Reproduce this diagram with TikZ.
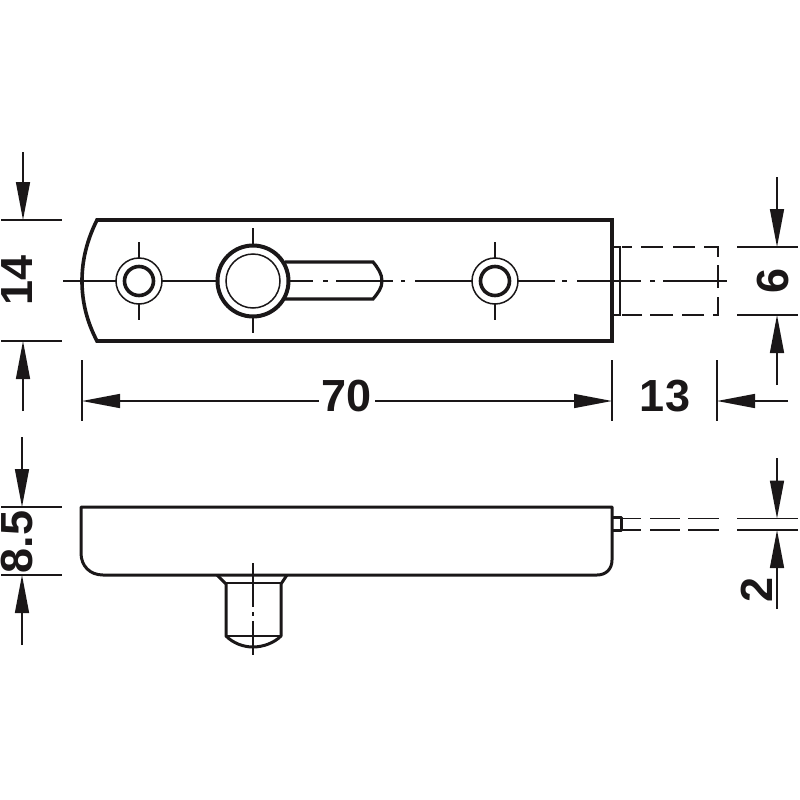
\documentclass[tikz,border=0pt]{standalone}
\usepackage{fontspec}
\setmainfont{Liberation Sans}
\usetikzlibrary{arrows.meta}
\definecolor{inkblack}{HTML}{1A1718}
\tikzset{
	outline/.style={draw=inkblack,line width=3.6pt,line join=miter},
	sideline/.style={draw=inkblack,line width=3pt,line join=round},
	thinline/.style={draw=inkblack,line width=1.5pt},
	hiddenline/.style={thinline,line width=1.8pt},
	dimline/.style={thinline,-{Triangle[length=38pt,width=14pt]}},
	dimtext/.style={text=inkblack,inner sep=0pt,font=\bfseries\fontsize{45}{45}\selectfont}
}

\begin{document}
\begin{tikzpicture}[x=1pt,y=-1pt]
	\useasboundingbox (0,0) rectangle (800,800);

	% top view
	\path[outline] (97,220) -- (612,220) -- (612,341) -- (97,341)
		.. controls (87,322) and (82,302) .. (82,281)
		.. controls (82,260) and (87,240) .. (97,220) -- cycle;
	\foreach \holex in {139,495} {
		\draw[thinline] (\holex,281) circle (23);
		\draw[draw=inkblack,line width=3.6pt] (\holex,281) circle (14.5);
		\draw[thinline] (\holex,242) -- (\holex,258) (\holex,304) -- (\holex,320);
	}
	\draw[draw=inkblack,line width=4pt] (253,281) circle (35.5);
	\draw[thinline] (253,281) circle (27);
	\draw[thinline] (253,228) -- (253,244) (253,318) -- (253,333);
	\path[draw=inkblack,line width=3.2pt] (285,262) -- (373,262)
		.. controls (378,268) and (382,274) .. (382,281)
		.. controls (382,288) and (378,293) .. (373,299) -- (285,299);

	% centre line
	\draw[thinline] (63,281) -- (116,281) (162,281) -- (216,281) (290,281) -- (313,281)
		(323,281) -- (328,281) (336,281) -- (393,281) (401,281) -- (405,281)
		(415,281) -- (472,281) (518,281) -- (555,281) (562,281) -- (567,281)
		(577,281) -- (641,281) (650,281) -- (655,281) (663,281) -- (727,281);

	% pin in the top view
	\path[draw=inkblack,line width=2.8pt] (612,247) -- (620,247) -- (620,315) -- (612,315);
	\draw[hiddenline] (622,247) -- (632,247) (641,247) -- (663,247) (673,247) -- (695,247) (704,247) -- (718,247) -- (718,257)
		(718,265) -- (718,288) (718,297) -- (718,315) -- (713,315)
		(704,315) -- (682,315) (673,315) -- (650,315) (642,315) -- (622,315);

	% side view
	\path[sideline] (612,507) -- (81,507) -- (81,553)
		.. controls (81,566) and (90,575) .. (103,575) -- (597,575)
		.. controls (606,575) and (612,569) .. (612,560) -- cycle;
	\path[sideline] (613,517.5) -- (621,517.5) -- (621,530.5) -- (613,530.5);
	\draw[hiddenline] (621,518.5) -- (641,518.5) (650,518.5) -- (680,518.5) (688,518.5) -- (719,518.5)
		(621,530) -- (641,530) (650,530) -- (680,530) (688,530) -- (719,530);
	\path[sideline] (217,575) -- (226,584) -- (226,636)
		.. controls (233,643) and (243,647) .. (253,647)
		.. controls (263,647) and (274,643) .. (281,636) -- (281,584) -- (287,575);
	\draw[thinline] (226,583) -- (281,583) (226,636) -- (281,636);
	\draw[thinline] (253,563) -- (253,607) (253,612) -- (253,616) (253,621) -- (253,655);

	% dimension 14
	\node[dimtext,rotate=90] (wid) at (17.5,280) {14};
	\coordinate (widtop) at (23,220);
	\coordinate (widbot) at (23,341);
	\draw[thinline] (1,220) -- (62,220) (1,341) -- (62,341);
	\draw[dimline] (23,152) -- (widtop);
	\draw[dimline] (23,411) -- (widbot);

	% dimension 70 and 13
	\node[dimtext] (len) at (347,396) {70};
	\node[dimtext] (pinlen) at (665,396) {13};
	\coordinate (lenleft) at (82,401);
	\coordinate (lenright) at (612,401);
	\coordinate (pinright) at (717,401);
	\draw[thinline] (82,360) -- (82,421) (612,360) -- (612,421) (717,360) -- (717,421);
	\draw[dimline] (len.west |- lenleft) ++(-3,0) -- (lenleft);
	\draw[dimline] (len.east |- lenright) ++(3,0) -- (lenright);
	\draw[dimline] (788,401) -- (pinright);

	% dimension 6
	\node[dimtext,rotate=90] (pinwid) at (773,281) {6};
	\coordinate (pintop) at (777,247);
	\coordinate (pinbot) at (777,315);
	\draw[thinline] (737,247) -- (798,247) (737,315) -- (798,315);
	\draw[dimline] (777,177) -- (pintop);
	\draw[dimline] (777,385) -- (pinbot);

	% dimension 8.5
	\node[dimtext,rotate=90] (hgt) at (17.5,542) {8.5};
	\coordinate (hgttop) at (22,507);
	\coordinate (hgtbot) at (22,575);
	\draw[thinline] (1,507) -- (62,507) (1,575) -- (62,575);
	\draw[dimline] (22,437) -- (hgttop);
	\draw[dimline] (22,645) -- (hgtbot);

	% dimension 2
	\node[dimtext,rotate=90] (pinhgt) at (757,590) {2};
	\coordinate (thintop) at (777,518.5);
	\coordinate (thinbot) at (777,530);
	\draw[thinline] (737,518.5) -- (798,518.5) (737,530) -- (798,530);
	\draw[dimline] (777,458) -- (thintop);
	\draw[dimline] (777,609) -- (thinbot);
\end{tikzpicture}
\end{document}
